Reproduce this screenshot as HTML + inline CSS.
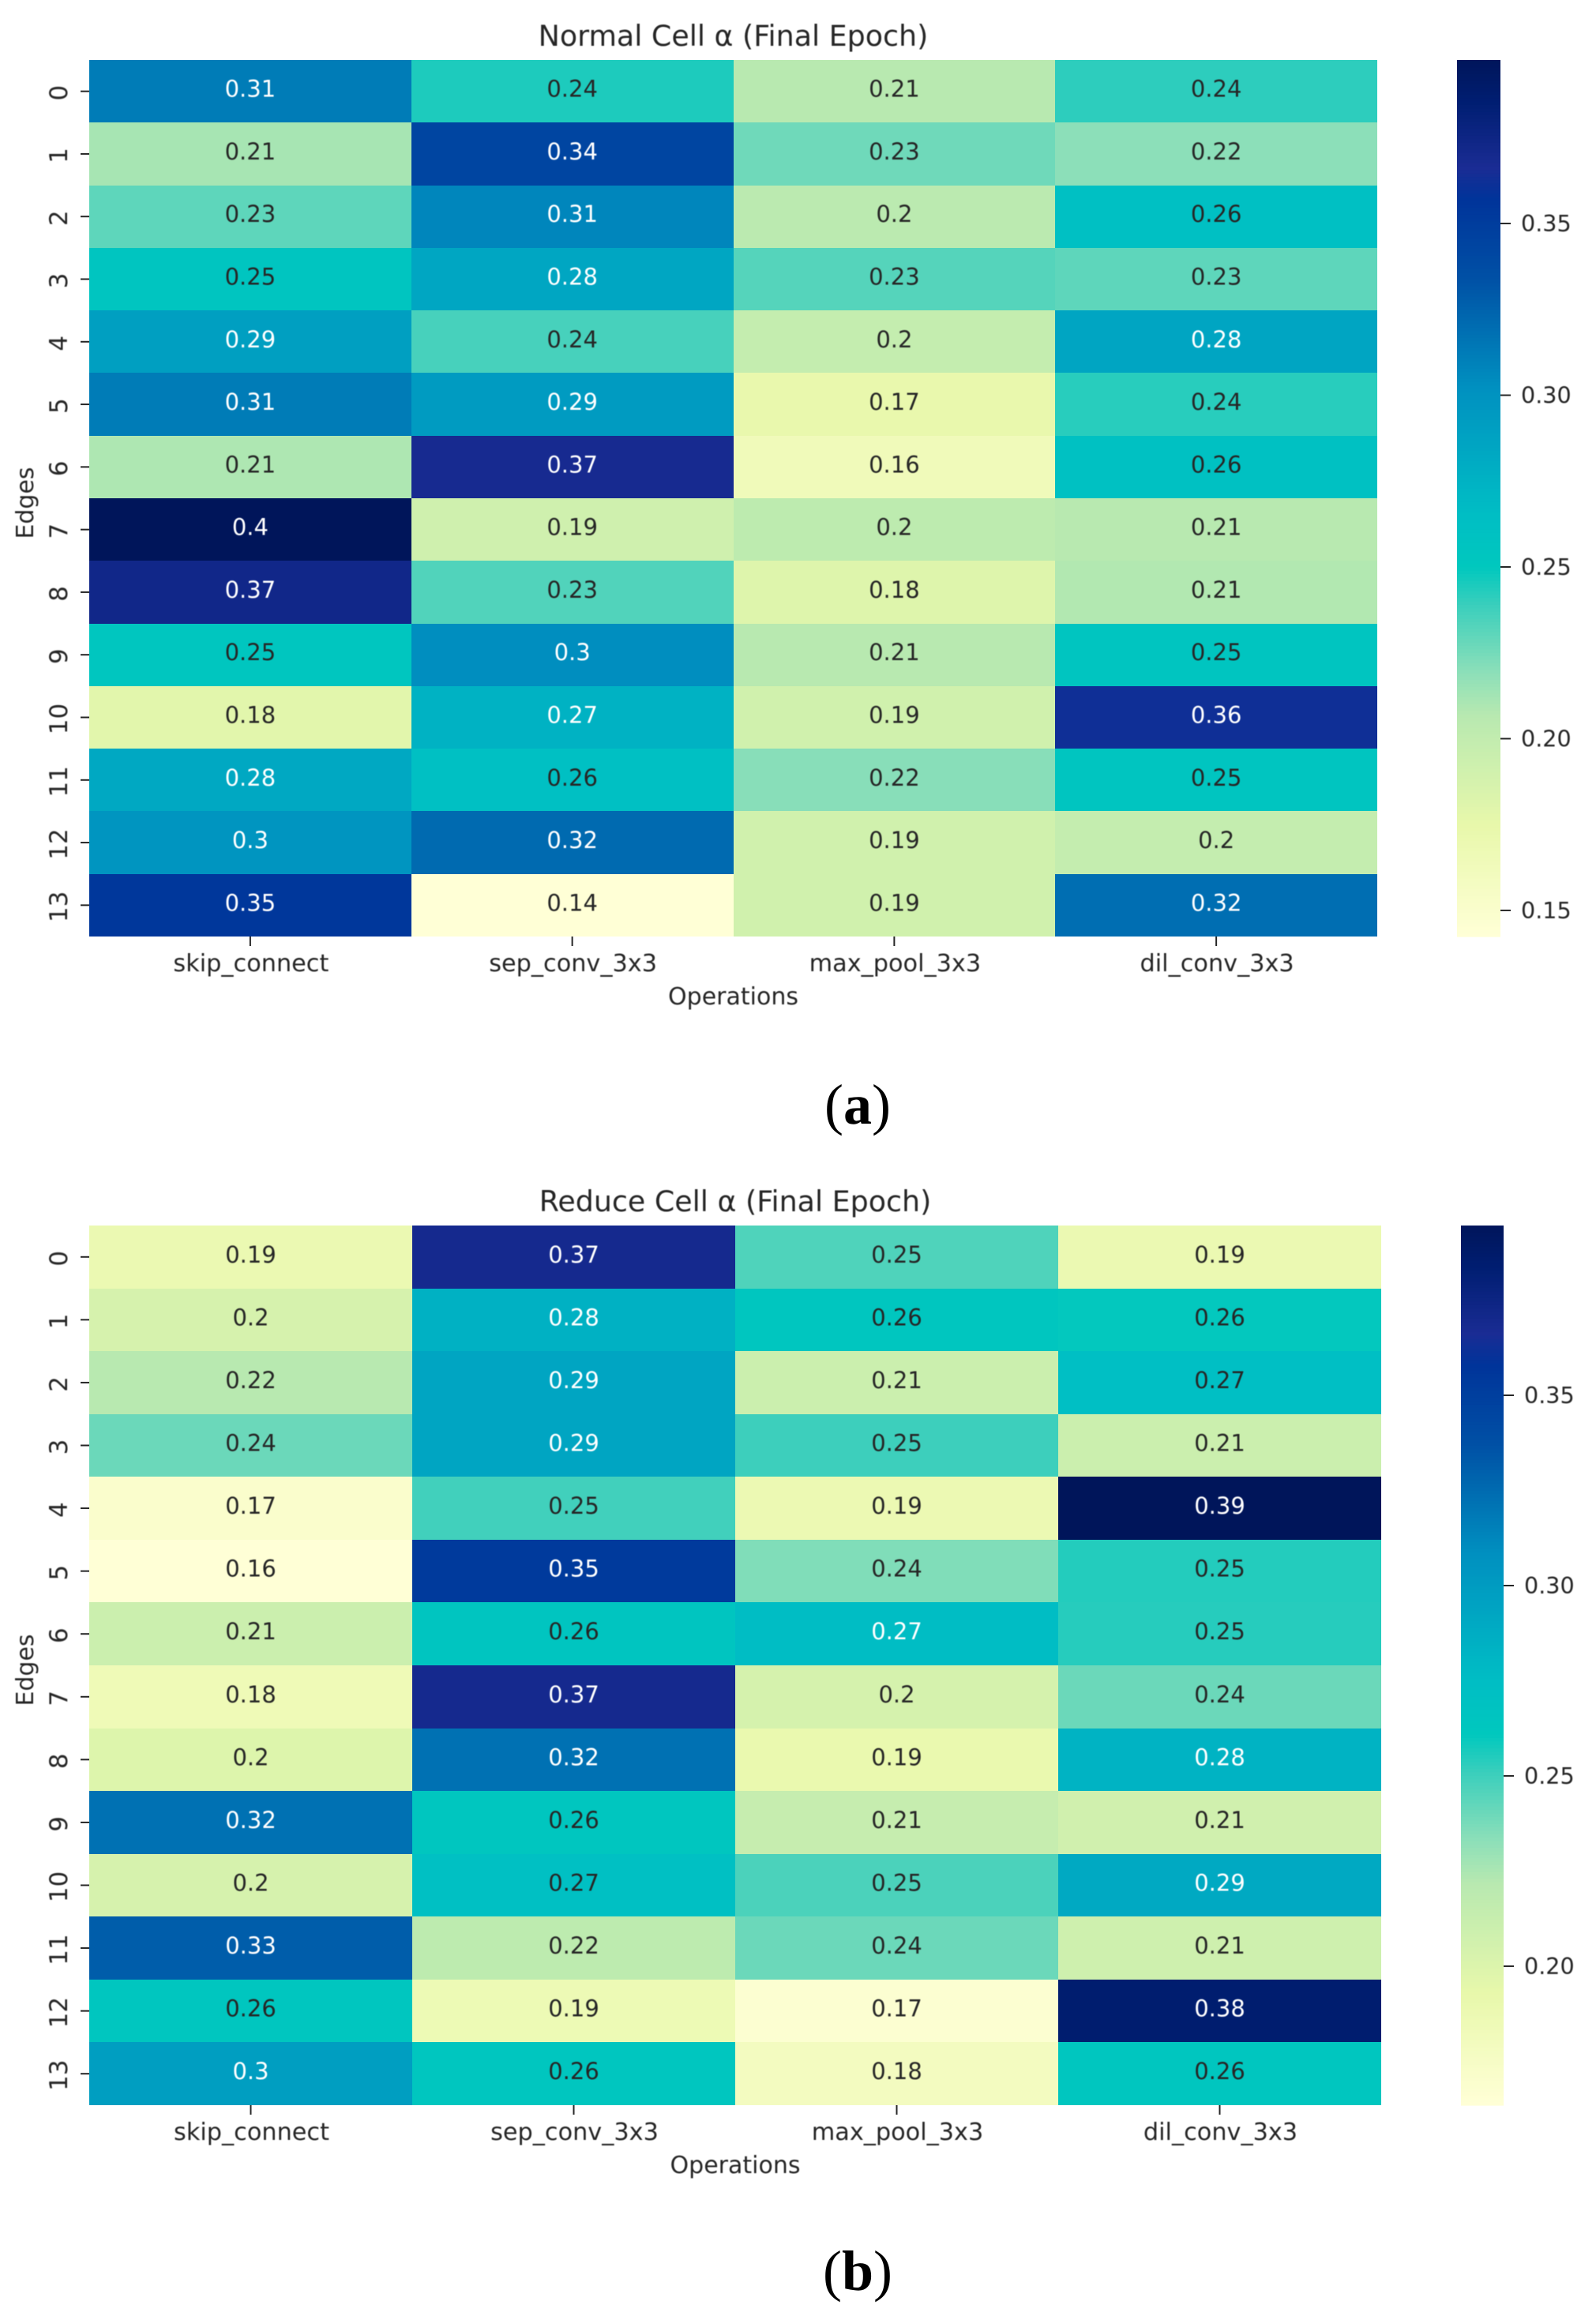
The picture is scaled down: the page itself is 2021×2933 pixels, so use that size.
<!DOCTYPE html>
<html lang="en">
<head>
<meta charset="utf-8">
<title>Normal and Reduce Cell α heatmaps</title>
<style>
html,body{margin:0;padding:0;background:#fff;}
#figure{display:block;width:2021px;height:2933px;}
text{font-family:"DejaVu Sans","Liberation Sans",sans-serif;fill:#262626;filter:blur(0.6px);}
.caption{font-family:"Liberation Serif",serif;fill:#000;filter:none;}
</style>
</head>
<body>
<svg id="figure" xmlns="http://www.w3.org/2000/svg" width="2021" height="2933" viewBox="0 0 2021 2933">
  <rect x="0" y="0" width="2021" height="2933" fill="#ffffff"/>
  <g id="panel-a"></g>
  <g id="panel-b"></g>
  <text class="caption" x="1086" y="1423" text-anchor="middle" font-size="72">(<tspan font-weight="bold">a</tspan>)</text>
  <text class="caption" x="1086" y="2900" text-anchor="middle" font-size="72">(<tspan font-weight="bold">b</tspan>)</text>
</svg>
<script>
const operations = ['skip_connect', 'sep_conv_3x3', 'max_pool_3x3', 'dil_conv_3x3'];
const edges = ['0', '1', '2', '3', '4', '5', '6', '7', '8', '9', '10', '11', '12', '13'];
const normalValues = [
  [0.312, 0.244, 0.206, 0.241],
  [0.211, 0.343, 0.226, 0.219],
  [0.230, 0.307, 0.204, 0.262],
  [0.254, 0.284, 0.232, 0.230],
  [0.290, 0.2355, 0.198, 0.285],
  [0.312, 0.293, 0.173, 0.242],
  [0.209, 0.368, 0.163, 0.260],
  [0.3976, 0.191, 0.203, 0.206],
  [0.372, 0.233, 0.181, 0.208],
  [0.253, 0.303, 0.206, 0.254],
  [0.178, 0.2745, 0.190, 0.362],
  [0.283, 0.262, 0.220, 0.2545],
  [0.298, 0.321, 0.190, 0.198],
  [0.354, 0.1424, 0.190, 0.319]
];
const reduceValues = [
  [0.188, 0.369, 0.246, 0.188],
  [0.203, 0.284, 0.263, 0.260],
  [0.221, 0.293, 0.210, 0.2735],
  [0.240, 0.293, 0.250, 0.210],
  [0.170, 0.249, 0.187, 0.3946],
  [0.1635, 0.353, 0.2355, 0.2545],
  [0.210, 0.264, 0.2749, 0.254],
  [0.184, 0.369, 0.204, 0.240],
  [0.199, 0.322, 0.190, 0.283],
  [0.322, 0.263, 0.213, 0.207],
  [0.203, 0.272, 0.247, 0.290],
  [0.331, 0.218, 0.240, 0.208],
  [0.263, 0.186, 0.167, 0.3845],
  [0.298, 0.263, 0.178, 0.263]
];
const normalTicks = [0.15, 0.20, 0.25, 0.30, 0.35];
const reduceTicks = [0.20, 0.25, 0.30, 0.35];

const colorStops = [
  [0, 255, 255, 214],
  [0.125, 232, 248, 171],
  [0.25, 184, 233, 176],
  [0.30, 140, 223, 185],
  [0.375, 60, 207, 188],
  [0.42, 0, 200, 190],
  [0.479, 0, 190, 196],
  [0.50, 0, 184, 196],
  [0.625, 0, 144, 192],
  [0.75, 0, 80, 165],
  [0.84, 0, 52, 154],
  [0.875, 26, 44, 148],
  [0.95, 0, 30, 114],
  [1, 0, 21, 90]
];

const SVG_NS = 'http://www.w3.org/2000/svg';

function colorAt(t) {
  const c = Math.max(0, Math.min(1, t));
  for (let i = 1; i < colorStops.length; i++) {
    if (c <= colorStops[i][0]) {
      const a = colorStops[i - 1];
      const b = colorStops[i];
      const f = (c - a[0]) / (b[0] - a[0]);
      return [1, 2, 3].map(function (k) { return Math.round(a[k] + (b[k] - a[k]) * f); });
    }
  }
  return colorStops[colorStops.length - 1].slice(1);
}

function luminance(rgb) {
  const lin = rgb.map(function (v) {
    const s = v / 255;
    return s <= 0.03928 ? s / 12.92 : Math.pow((s + 0.055) / 1.055, 2.4);
  });
  return 0.2126 * lin[0] + 0.7152 * lin[1] + 0.0722 * lin[2];
}

function make(tag, props) {
  const el = document.createElementNS(SVG_NS, tag);
  Object.keys(props).forEach(function (k) { el.setAttribute(k, props[k]); });
  return el;
}

function formatValue(v) {
  return String(parseFloat(v.toPrecision(2)));
}

function drawHeatmap(root, opts) {
  const values = opts.values;
  const flat = values.reduce(function (acc, row) { return acc.concat(row); }, []);
  const vmin = Math.min.apply(null, flat);
  const vmax = Math.max.apply(null, flat);
  const cw = (opts.right - opts.left) / operations.length;
  const ch = (opts.bottom - opts.top) / edges.length;
  const xScale = function (i) { return opts.left + i * cw; };
  const yScale = function (i) { return opts.top + i * ch; };
  const tOf = function (v) { return (v - vmin) / (vmax - vmin); };
  const cbScale = function (v) { return opts.bottom - tOf(v) * (opts.bottom - opts.top); };

  values.forEach(function (row, r) {
    row.forEach(function (v, c) {
      const rgb = colorAt(tOf(v));
      const x0 = Math.round(xScale(c));
      const x1 = Math.round(xScale(c + 1));
      const y0 = Math.round(yScale(r));
      const y1 = Math.round(yScale(r + 1));
      const cell = make('rect', {x: x0, y: y0, width: x1 - x0, height: y1 - y0, fill: 'rgb(' + rgb.join(',') + ')', 'shape-rendering': 'crispEdges'});
      
      
      root.appendChild(cell);
    });
  });

  values.forEach(function (row, r) {
    row.forEach(function (v, c) {
      const rgb = colorAt(tOf(v));
      const label = make('text', {x: xScale(c) + cw / 2, y: yScale(r) + ch / 2 + 7, 'text-anchor': 'middle', 'font-size': 29});
      label.setAttribute('style', 'fill:' + (luminance(rgb) > 0.408 ? '#262626' : '#ffffff'));
      label.textContent = formatValue(v);
      
      
      root.appendChild(label);
    });
  });

  operations.forEach(function (name, i) {
    const cx = xScale(i) + cw / 2;
    const tick = make('line', {x1: cx, x2: cx, y1: opts.bottom, y2: opts.bottom + 12, stroke: '#262626', 'stroke-width': 2});
    
    
    root.appendChild(tick);
    const label = make('text', {x: cx + 1, y: opts.bottom + 44, 'text-anchor': 'middle', 'font-size': 30.3});
    label.textContent = name;
    
    
    root.appendChild(label);
  });

  edges.forEach(function (name, i) {
    const cy = yScale(i) + ch / 2;
    const tick = make('line', {x1: opts.left - 11, x2: opts.left, y1: cy, y2: cy, stroke: '#262626', 'stroke-width': 2});
    
    
    root.appendChild(tick);
    const label = make('text', {x: 0, y: 0, 'text-anchor': 'middle', 'font-size': 31, transform: 'translate(85 ' + (cy + 2) + ') rotate(-90)'});
    label.textContent = name;
    
    
    root.appendChild(label);
  });

  const title = make('text', {x: (opts.left + opts.right) / 2, y: opts.top - 18, 'text-anchor': 'middle', 'font-size': 36.4});
  title.textContent = opts.title;
  
  
  root.appendChild(title);

  const xTitle = make('text', {x: (opts.left + opts.right) / 2, y: opts.bottom + 86, 'text-anchor': 'middle', 'font-size': 30});
  xTitle.textContent = 'Operations';
  
  
  root.appendChild(xTitle);

  const yTitle = make('text', {x: 0, y: 0, 'text-anchor': 'middle', 'font-size': 30, transform: 'translate(42 ' + ((opts.top + opts.bottom) / 2 + 6) + ') rotate(-90)'});
  yTitle.textContent = 'Edges';
  
  
  root.appendChild(yTitle);

  const bar = make('g', {});
  
  
  root.appendChild(bar);
  const steps = 256;
  for (let i = 0; i < steps; i++) {
    const v0 = vmin + (vmax - vmin) * i / steps;
    const v1 = vmin + (vmax - vmin) * (i + 1) / steps;
    const band = make('rect', {x: opts.barLeft, y: cbScale(v1), width: opts.barRight - opts.barLeft, height: cbScale(v0) - cbScale(v1) + 0.6, fill: 'rgb(' + colorAt(tOf(v0)).join(',') + ')'});
    
    
    bar.appendChild(band);
  }
  opts.ticks.forEach(function (v) {
    const y = cbScale(v);
    const tick = make('line', {x1: opts.barRight, x2: opts.barRight + 13, y1: y, y2: y, stroke: '#262626', 'stroke-width': 2});
    
    
    root.appendChild(tick);
    const label = make('text', {x: opts.barRight + 26, y: y + 10, 'font-size': 28.6});
    label.textContent = v.toFixed(2);
    
    
    root.appendChild(label);
  });
}

drawHeatmap(document.getElementById('panel-a'), {
  values: normalValues, ticks: normalTicks, title: 'Normal Cell α (Final Epoch)',
  left: 113, right: 1744, top: 76, bottom: 1186, barLeft: 1845, barRight: 1900
});
drawHeatmap(document.getElementById('panel-b'), {
  values: reduceValues, ticks: reduceTicks, title: 'Reduce Cell α (Final Epoch)',
  left: 113, right: 1749, top: 1552, bottom: 2666, barLeft: 1850, barRight: 1904
});
</script>
</body>
</html>
